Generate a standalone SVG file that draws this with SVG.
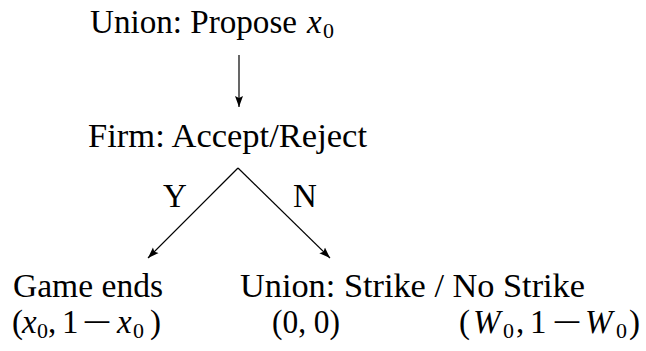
<svg xmlns="http://www.w3.org/2000/svg" width="646" height="351" viewBox="0 0 646 351">
<style>
.t{font-family:"Liberation Serif","Times New Roman",serif;font-size:33px;fill:#000}
.m{font-style:italic}
.s{font-size:22px}
.e{stroke:#000;stroke-width:1.2;fill:none;marker-end:url(#ah)}
</style>
<defs>
<marker id="ah" markerUnits="userSpaceOnUse" markerWidth="12" markerHeight="10" viewBox="0 0 12 10" refX="11" refY="5" orient="auto">
<path d="M0,1 L11,5 L0,9 L2,5 Z" fill="#000"/>
</marker>
</defs>
<rect width="646" height="351" fill="#fff"/>
<g id="edges">
<line class="e" x1="239" y1="55" x2="239" y2="107"/>
<line class="e" x1="238" y1="168" x2="148" y2="258"/>
<line class="e" x1="238" y1="168" x2="330" y2="258"/>
<text class="t" x="163" y="207">Y</text>
<text class="t" x="293" y="207">N</text>
</g>
<g id="n-union">
<text class="t" x="90" y="33" textLength="207" lengthAdjust="spacingAndGlyphs">Union: Propose</text>
<text class="t m" x="307" y="33">x</text>
<text class="t s" x="323" y="38">0</text>
</g>
<g id="n-firm">
<text class="t" x="88" y="147" textLength="279" lengthAdjust="spacingAndGlyphs">Firm: Accept/Reject</text>
</g>
<g id="n-gameends">
<text class="t" x="13" y="297" textLength="150" lengthAdjust="spacingAndGlyphs">Game ends</text>
<text class="t" y="333"><tspan x="12">(</tspan><tspan x="22" class="m">x</tspan><tspan x="37" dy="5" class="s">0</tspan><tspan x="48" dy="-5">,</tspan><tspan x="62">1</tspan><tspan x="82" textLength="30" lengthAdjust="spacingAndGlyphs">−</tspan><tspan x="117" class="m">x</tspan><tspan x="133" dy="5" class="s">0</tspan><tspan x="150" dy="-5">)</tspan></text>
</g>
<g id="n-strike">
<text class="t" x="240" y="297" textLength="345" lengthAdjust="spacingAndGlyphs">Union: Strike / No Strike</text>
</g>
<g id="n-payoff-strike">
<text class="t" x="272" y="333" textLength="68" lengthAdjust="spacingAndGlyphs">(0, 0)</text>
</g>
<g id="n-payoff-nostrike">
<text class="t" y="333"><tspan x="459">(</tspan><tspan x="473" class="m">W</tspan><tspan x="503" dy="5" class="s">0</tspan><tspan x="516" dy="-5">,</tspan><tspan x="530">1</tspan><tspan x="552" textLength="30" lengthAdjust="spacingAndGlyphs">−</tspan><tspan x="585" class="m">W</tspan><tspan x="616" dy="5" class="s">0</tspan><tspan x="629" dy="-5">)</tspan></text>
</g>
</svg>
